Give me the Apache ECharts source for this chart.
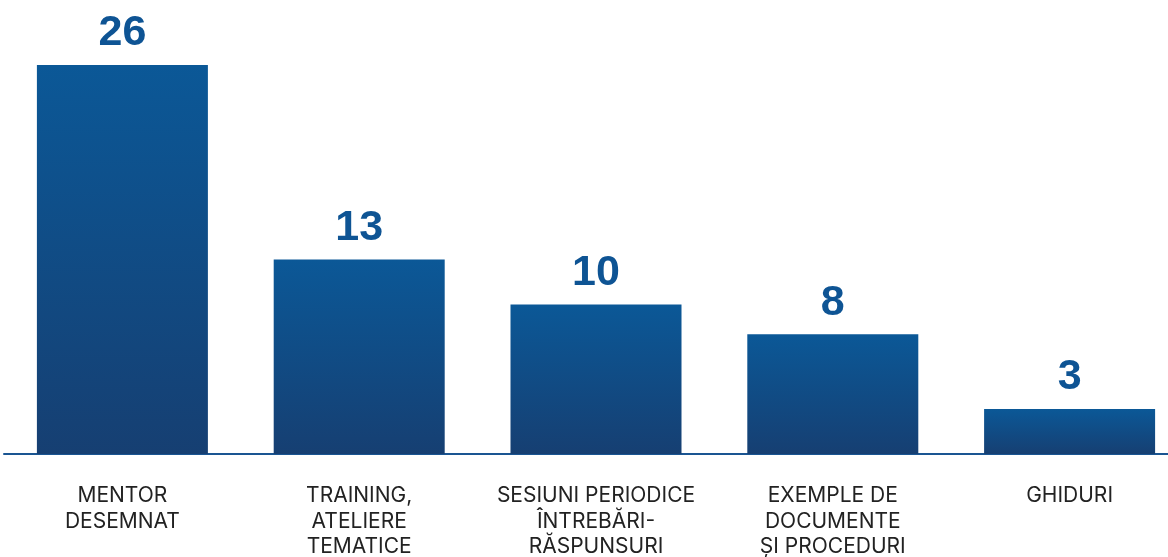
<!DOCTYPE html>
<html>
<head>
<meta charset="utf-8">
<script src="https://cdn.jsdelivr.net/npm/echarts@6/dist/echarts.min.js"></script>
<style>
  html, body { margin: 0; padding: 0; background: #fff; }
  #chart { width: 1168px; height: 557px; }
</style>
</head>
<body>
<div id="chart"></div>
<script>
const categories = [
  'MENTOR\nDESEMNAT',
  'TRAINING,\nATELIERE\nTEMATICE',
  'SESIUNI PERIODICE\nÎNTREBĂRI-\nRĂSPUNSURI',
  'EXEMPLE DE\nDOCUMENTE\nȘI PROCEDURI',
  'GHIDURI'
]
const values = [26, 13, 10, 8, 3]

const chart = echarts.init(document.getElementById('chart'))

// bar gradient, lighter on top
const barColor = new echarts.graphic.LinearGradient(0, 0, 0, 1, [
  { offset: 0, color: '#0b5897' },
  { offset: 1, color: '#163f72' }
])

chart.setOption({
  animation: false,
  grid: {
    left: 4,
    width: 1184,
    top: 65,
    bottom: 103,
    outerBoundsMode: 'none',
    containLabel: false
  },
  xAxis: {
    type: 'category',
    data: categories,
    axisLine: {
      show: true,
      lineStyle: { color: '#1a5592', width: 2 }
    },
    axisTick: { show: false },
    axisLabel: {
      margin: 29,
      color: '#222',
      fontFamily: 'Inter, Roboto, sans-serif',
      fontSize: 21,
      lineHeight: 25.5,
      interval: 0
    }
  },
  yAxis: {
    type: 'value',
    min: 0,
    max: 26,
    show: false,
    splitLine: { show: false }
  },
  series: [
    {
      type: 'bar',
      data: values,
      barWidth: 171,
      itemStyle: { color: barColor },
      z: 3,
      label: {
        show: true,
        position: 'top',
        distance: 10,
        color: '#0e5494',
        fontFamily: '"Liberation Sans", Arial, sans-serif',
        fontWeight: 'bold',
        fontSize: 43
      }
    }
  ]
})
</script>
</body>
</html>
